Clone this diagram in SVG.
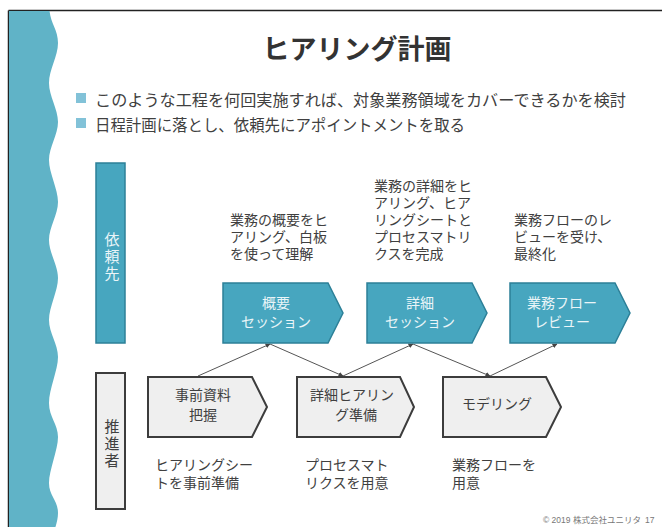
<svg xmlns="http://www.w3.org/2000/svg" width="662" height="527" viewBox="0 0 662 527">
<defs>
<style>
text{font-family:"Liberation Sans","Noto Sans CJK JP",sans-serif;}
.t{fill:#404040;font-size:14px;}
.b{fill:#404040;font-size:16px;}
.wt{fill:#eaf5f8;font-size:14px;text-anchor:middle;}
.dt{fill:#404040;font-size:14px;text-anchor:middle;}
.vt{font-size:15px;writing-mode:vertical-rl;letter-spacing:2px;}
.teal{fill:#47a6bf;stroke:#2d8098;stroke-width:1.5;}
.gray{fill:#efefef;stroke:#3c3c3c;stroke-width:2;}
.conn{stroke:#555;stroke-width:1;fill:none;marker-end:url(#ah);}
</style>
<marker id="ah" viewBox="0 0 10 10" refX="9" refY="5" markerWidth="5" markerHeight="5" orient="auto">
<path d="M0,0 L10,5 L0,10 Z" fill="#444"/>
</marker>
</defs>
<rect x="0" y="0" width="662" height="527" fill="#fff"/>
<path d="M8.5,10.5 H662 M8.5,10.5 V527" stroke="#222" stroke-width="1.5" fill="none"/>
<path d="M9,11 L49.5,11 C51,24 58,30 58,43 S49,70 49,83 S58,109 58,122 S49,147 49,160 S58,189 58,202 S49,227 49,240 S58,265 58,278 S49,307 49,320 S58,344 58,357 S49,389 49,403 S58,424 58,437 S49,470 49,483 S58,500 58,513 S49,540 49,553 L9,553 Z" fill="#60b3c7"/>

<text x="357" y="59" text-anchor="middle" style="font-size:27px;font-weight:bold;fill:#333;">ヒアリング計画</text>

<g id="bullets">
<rect x="76" y="93" width="10" height="10" fill="#82c2d8"/>
<text class="b" x="95" y="106" textLength="531" lengthAdjust="spacingAndGlyphs">このような工程を何回実施すれば、対象業務領域をカバーできるかを検討</text>
<rect x="76" y="118" width="10" height="10" fill="#82c2d8"/>
<text class="b" x="95" y="131" textLength="370" lengthAdjust="spacingAndGlyphs">日程計画に落とし、依頼先にアポイントメントを取る</text>
</g>

<g id="lane-client">
<rect class="teal" x="96" y="163" width="29" height="180"/>
<text class="vt" x="111" y="232" style="fill:#eaf5f8">依頼先</text>
</g>
<g id="lane-promoter">
<rect class="gray" x="96" y="373" width="29" height="136"/>
<text class="vt" x="111" y="419" style="fill:#404040">推進者</text>
</g>

<g id="connectors">
<line class="conn" x1="198" y1="376" x2="270" y2="344"/>
<line class="conn" x1="270" y1="344" x2="343" y2="376"/>
<line class="conn" x1="343" y1="376" x2="413" y2="344"/>
<line class="conn" x1="413" y1="344" x2="490" y2="376"/>
<line class="conn" x1="490" y1="376" x2="557" y2="344"/>
</g>

<g id="overview-session">
<path class="teal" d="M223,283 H328 L343,313 L328,343 H223 Z"/>
<text class="wt" x="276" y="308">概要<tspan x="276" dy="19">セッション</tspan></text>
</g>
<g id="detail-session">
<path class="teal" d="M367,283 H472 L487,313 L472,343 H367 Z"/>
<text class="wt" x="420" y="308">詳細<tspan x="420" dy="19">セッション</tspan></text>
</g>
<g id="flow-review">
<path class="teal" d="M510,283 H615 L630,313 L615,343 H510 Z"/>
<text class="wt" x="562" y="308">業務フロー<tspan x="562" dy="19">レビュー</tspan></text>
</g>

<g id="pre-material">
<path class="gray" d="M148,377 H252 L267,407 L252,437 H148 Z"/>
<text class="dt" x="203" y="400">事前資料<tspan x="203" dy="20">把握</tspan></text>
</g>
<g id="detail-prep">
<path class="gray" d="M297,377 H400 L414,407 L400,437 H297 Z"/>
<text class="dt" x="352" y="400">詳細ヒアリン<tspan x="356" dy="20">グ準備</tspan></text>
</g>
<g id="modeling">
<path class="gray" d="M443,377 H546 L561,407 L546,437 H443 Z"/>
<text class="dt" x="497" y="409">モデリング</text>
</g>

<g id="desc-top">
<text class="t" x="230" y="225">業務の概要をヒ<tspan x="230" dy="17">アリング、白板</tspan><tspan x="230" dy="17">を使って理解</tspan></text>
<text class="t" x="374" y="191">業務の詳細をヒ<tspan x="374" dy="17">アリング、ヒア</tspan><tspan x="374" dy="17">リングシートと</tspan><tspan x="374" dy="17">プロセスマトリ</tspan><tspan x="374" dy="17">クスを完成</tspan></text>
<text class="t" x="514" y="225">業務フローのレ<tspan x="514" dy="17">ビューを受け、</tspan><tspan x="514" dy="17">最終化</tspan></text>
</g>
<g id="desc-bottom">
<text class="t" x="155" y="470">ヒアリングシー<tspan x="155" dy="18">トを事前準備</tspan></text>
<text class="t" x="305" y="470">プロセスマト<tspan x="305" dy="18">リクスを用意</tspan></text>
<text class="t" x="452" y="470">業務フローを<tspan x="452" dy="18">用意</tspan></text>
</g>

<text x="543" y="523" style="font-size:8.5px;fill:#777">© 2019 株式会社ユニリタ</text>
<text x="645" y="523" style="font-size:8.5px;fill:#777">17</text>
</svg>
